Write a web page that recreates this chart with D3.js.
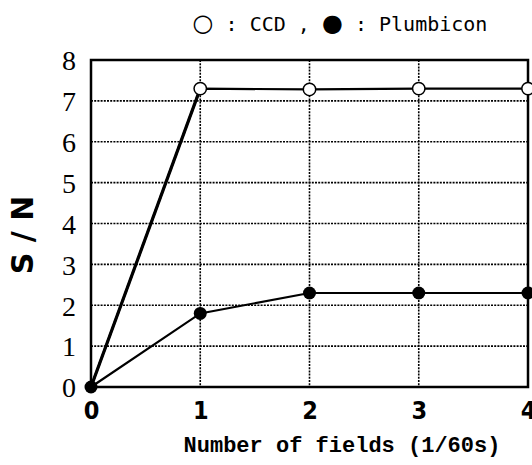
<!DOCTYPE html>
<html><head><meta charset="utf-8">
<script src="https://cdn.jsdelivr.net/npm/d3@7"></script>
<style>body{margin:0;background:#fff}</style>
</head><body>
<svg id="c" width="532" height="465"></svg>
<script>
const fields = [0, 1, 2, 3, 4];
const ccd = [0, 7.3, 7.28, 7.3, 7.3];
const plumbicon = [0, 1.8, 2.3, 2.3, 2.3];
const xTicks = [0, 1, 2, 3, 4];
const yTicks = [0, 1, 2, 3, 4, 5, 6, 7, 8];

const svg = d3.select("#c");
const L = 91, R = 528, T = 60, B = 387;
const x = d3.scaleLinear().domain([0, 4]).range([L, R]);
const y = d3.scaleLinear().domain([0, 8]).range([B, T]);

// grid
svg.append("g").selectAll("line").data(yTicks.filter(d => d > 0 && d < 8)).join("line")
  .attr("x1", L).attr("x2", R).attr("y1", d => y(d)).attr("y2", d => y(d))
  .attr("stroke", "#000").attr("stroke-width", 1.6).attr("stroke-dasharray", "2,1.2");
svg.append("g").selectAll("line").data(xTicks.filter(d => d > 0 && d < 4)).join("line")
  .attr("y1", T).attr("y2", B).attr("x1", d => x(d)).attr("x2", d => x(d))
  .attr("stroke", "#000").attr("stroke-width", 1.6).attr("stroke-dasharray", "2,1.2");

// frame
svg.append("rect").attr("x", L).attr("y", T).attr("width", R - L).attr("height", B - T)
  .attr("fill", "none").attr("stroke", "#000").attr("stroke-width", 2.5);

// axes labels via d3 axes
const xAxis = svg.append("g").attr("transform", `translate(0,${B})`)
  .call(d3.axisBottom(x).tickValues(xTicks).tickSize(0).tickPadding(14).tickFormat(d3.format("d")));
xAxis.select(".domain").remove();
xAxis.selectAll("text").attr("font-family", "'DejaVu Sans Condensed', 'DejaVu Sans', sans-serif")
  .style("font-stretch", "condensed").attr("font-weight", "bold").attr("font-size", 25).attr("fill", "#000");

const yAxis = svg.append("g").attr("transform", `translate(${L},0)`)
  .call(d3.axisLeft(y).tickValues(yTicks).tickSize(0).tickPadding(15).tickFormat(d3.format("d")));
yAxis.select(".domain").remove();
yAxis.selectAll("text").attr("font-family", "'Liberation Serif', serif")
  .attr("font-size", 28).attr("fill", "#000").attr("dy", "0.35em");

// lines
const line = d3.line().x((d, i) => x(fields[i])).y(d => y(d));
svg.append("path").datum(plumbicon).attr("d", line).attr("fill", "none")
  .attr("stroke", "#000").attr("stroke-width", 2.2);
svg.append("path").datum(ccd.slice(0, 2)).attr("d", line).attr("fill", "none")
  .attr("stroke", "#000").attr("stroke-width", 3.2);
svg.append("path").datum(ccd).attr("d", line).attr("fill", "none")
  .attr("stroke", "#000").attr("stroke-width", 2.2);

// markers
svg.append("g").selectAll("circle").data(ccd.map((v, i) => [fields[i], v]).filter(d => d[0] > 0)).join("circle")
  .attr("cx", d => x(d[0])).attr("cy", d => y(d[1])).attr("r", 6.2)
  .attr("fill", "#fff").attr("stroke", "#000").attr("stroke-width", 1.5);
svg.append("g").selectAll("circle").data(plumbicon.map((v, i) => [fields[i], v])).join("circle")
  .attr("cx", d => x(d[0])).attr("cy", d => y(d[1])).attr("r", 6.5)
  .attr("fill", "#000");

// axis titles
svg.append("text").attr("x", 342).attr("y", 452).attr("text-anchor", "middle")
  .attr("font-family", "'Liberation Mono', monospace").attr("font-weight", "bold")
  .attr("font-size", 22).text("Number of fields (1/60s)");

svg.append("text").attr("transform", "translate(33,235) rotate(-90)").attr("text-anchor", "middle")
  .attr("font-family", "'DejaVu Sans', sans-serif").attr("font-weight", "bold")
  .attr("font-size", 30).text("S / N");

// legend title
const lt = svg.append("text").attr("x", 340).attr("y", 31).attr("text-anchor", "middle")
  .attr("font-family", "'DejaVu Sans Mono', monospace").attr("font-size", 20);
lt.append("tspan").attr("font-family", "'DejaVu Sans', sans-serif").attr("font-size", 24).text("○");
lt.append("tspan").text(" : CCD ,  ");
lt.append("tspan").attr("font-family", "'DejaVu Sans', sans-serif").attr("font-size", 24).text("●");
lt.append("tspan").text(" : Plumbicon");
</script>
</body></html>
